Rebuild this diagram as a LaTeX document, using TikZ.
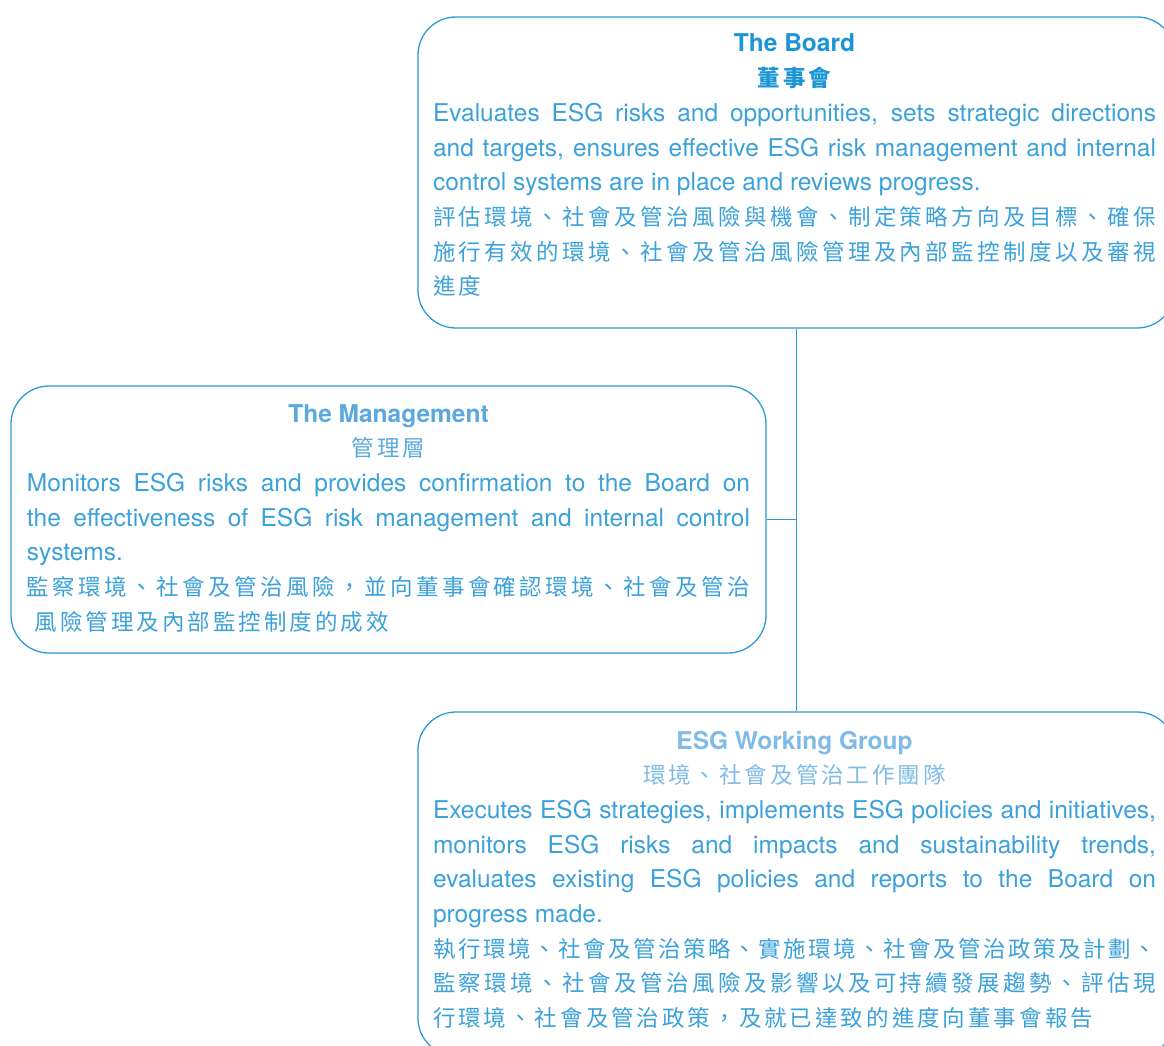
\documentclass[tikz,border=0pt]{standalone}
\usepackage{fontspec}
\setmainfont{TeX Gyre Heros}
\newfontfamily\cjk{Noto Sans CJK TC}
\definecolor{linec}{HTML}{2A9BD8}
\definecolor{bodyc}{HTML}{3BA1DA}
\definecolor{boardc}{HTML}{1B95D5}
\definecolor{mgmtc}{HTML}{5AA9DE}
\definecolor{wgc}{HTML}{7FBBE5}
\newdimen\cjkgap \cjkgap=3pt
\def\cjkjust#1{#1\cjkjustB}
\def\cjkjustB#1{\ifx\relax#1\else\hskip 0pt plus 1fil #1\expandafter\cjkjustB\fi}
\def\cjksp#1{#1\cjkspB}
\def\cjkspB#1{\ifx\relax#1\else\hskip\cjkgap #1\expandafter\cjkspB\fi}
\newcommand\cjksize{\fontsize{22.5pt}{34.7pt}\selectfont}
\newcommand\ttl[2]{\hbox to 723pt{\hfil\color{#1}\bfseries #2\hfil}}
\newcommand\ctl[2]{\hbox to 723pt{\hfil\color{#1}\cjk\cjksize #2\hfil}}
\newcommand\jl[1]{\hbox to 723pt{#1}}
\newcommand\lastl[1]{\hbox to 723pt{#1\hfil}}
\newcommand\cj[1]{\hbox to 723pt{\cjk\cjksize\cjkjust #1\relax}}
\newcommand\cl[1]{\hbox to 723pt{\cjk\cjksize\cjksp #1\relax\hfil}}
\newcommand\blk[1]{\color{bodyc}\parbox[t]{723pt}{\fontsize{24.5pt}{34.7pt}\selectfont\baselineskip=34.7pt\lineskiplimit=-30pt\parindent=0pt#1}}
\tikzset{
  box/.style={draw=linec, line width=1.3pt, rounded corners=38pt, inner sep=0pt},
  txt/.style={anchor=base west, inner sep=0pt, outer sep=0pt},
  conn/.style={draw=linec, line width=1.3pt}
}
\begin{document}
\begin{tikzpicture}[x=1pt,y=-1pt]
\useasboundingbox (0,0) rectangle (1164,1046);
\node[box, minimum width=757pt, minimum height=311pt] (board) at (796.5,172.5) {};
\node[box, minimum width=755pt, minimum height=267pt] (mgmt) at (388.5,519.5) {};
\node[box, minimum width=757pt, minimum height=344pt] (wg) at (796.5,884) {};
\draw[conn] (board.south) -- (wg.north);
\draw[conn] (mgmt.east) -- (mgmt.east -| board.south);
\node[txt] (boardtxt) at (433,52) {\blk{%
\ttl{boardc}{The Board}
\ctl{boardc}{\bfseries\cjksp 董事會\relax}
\jl{Evaluates ESG risks and opportunities, sets strategic directions}
\jl{and targets, ensures effective ESG risk management and internal}
\lastl{control systems are in place and reviews progress.}
\cj{評估環境、社會及管治風險與機會、制定策略方向及目標、確保}
\cj{施行有效的環境、社會及管治風險管理及內部監控制度以及審視}
\cl{進度}}};
\node[txt] (mgmttxt) at (27,422) {\blk{%
\ttl{mgmtc}{The Management}
\ctl{mgmtc}{\cjksp 管理層\relax}
\jl{Monitors ESG risks and provides confirmation to the Board on}
\jl{the effectiveness of ESG risk management and internal control}
\lastl{systems.}
\cj{監察環境、社會及管治風險，並向董事會確認環境、社會及管治}
\hbox to 723pt{\hskip 8pt\cjk\cjksize\cjksp 風險管理及內部監控制度的成效\relax\hfil}}};
\node[txt] (wgtxt) at (433,749) {\blk{%
\ttl{wgc}{ESG Working Group}
\ctl{wgc}{\cjksp 環境、社會及管治工作團隊\relax}
\jl{Executes ESG strategies, implements ESG policies and initiatives,}
\jl{monitors ESG risks and impacts and sustainability trends,}
\jl{evaluates existing ESG policies and reports to the Board on}
\lastl{progress made.}
\cj{執行環境、社會及管治策略、實施環境、社會及管治政策及計劃、}
\cj{監察環境、社會及管治風險及影響以及可持續發展趨勢、評估現}
\cl{行環境、社會及管治政策，及就已達致的進度向董事會報告}}};
\end{tikzpicture}
\end{document}
